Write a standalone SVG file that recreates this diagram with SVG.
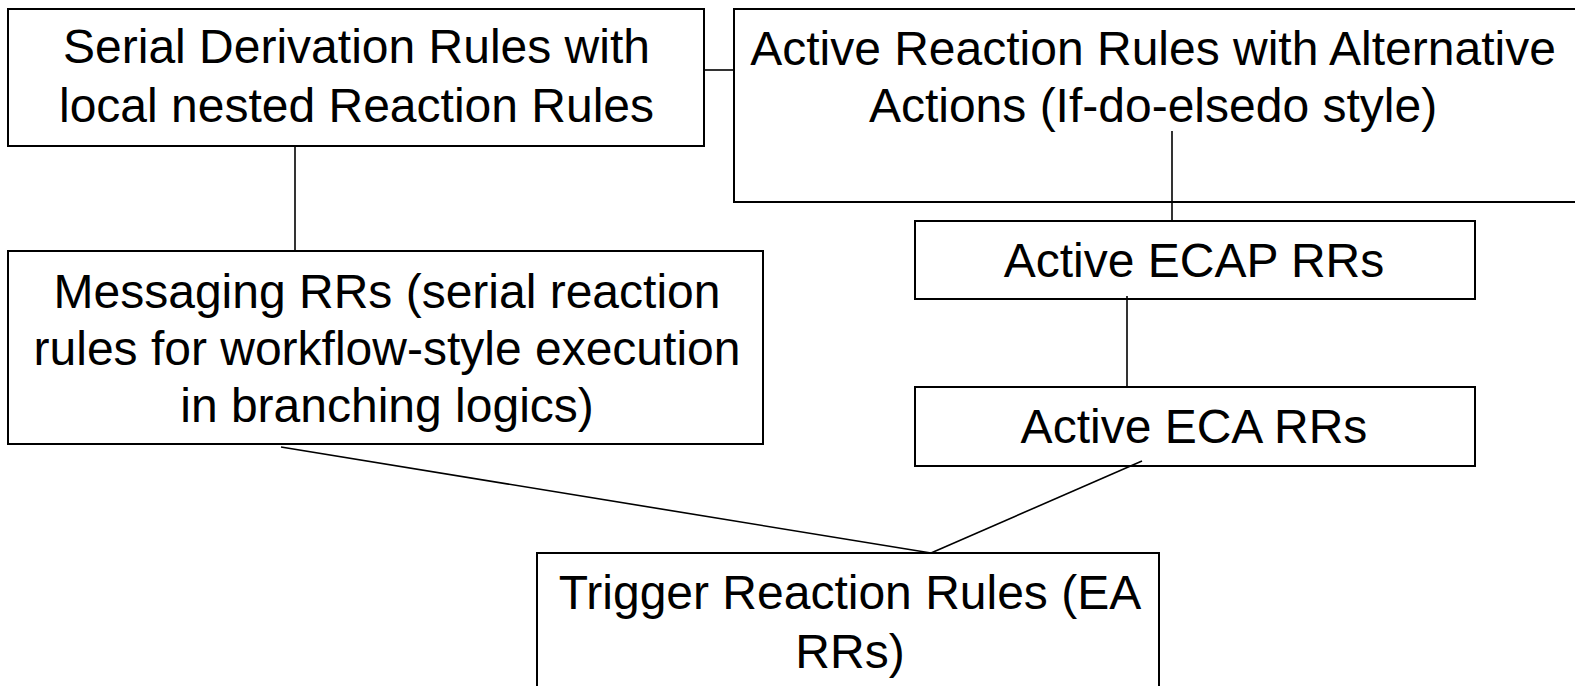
<svg xmlns="http://www.w3.org/2000/svg" width="1575" height="686" viewBox="0 0 1575 686">
<style>
.box{fill:#fff;stroke:#000;stroke-width:2}
.lbl{font-family:"Liberation Sans",Arial,sans-serif;font-size:48px;fill:#000;text-anchor:middle}
.conn{stroke:#000;stroke-width:1.6;fill:none}
</style>
<rect width="1575" height="686" fill="#fff"/>
<g id="nodes">
<g id="serial-derivation">
<rect class="box" x="8" y="9" width="696" height="137"/>
<text class="lbl" x="356.5" y="63">Serial Derivation Rules with</text>
<text class="lbl" x="356.5" y="122">local nested Reaction Rules</text>
</g>
<g id="active-alternative">
<rect class="box" x="734" y="9" width="845" height="193"/>
<text class="lbl" x="1153" y="65">Active Reaction Rules with Alternative</text>
<text class="lbl" x="1153" y="122">Actions (If-do-elsedo style)</text>
</g>
<g id="messaging">
<rect class="box" x="8" y="251" width="755" height="193"/>
<text class="lbl" x="387" y="308">Messaging RRs (serial reaction</text>
<text class="lbl" x="387" y="365">rules for workflow-style execution</text>
<text class="lbl" x="387" y="422">in branching logics)</text>
</g>
<g id="ecap">
<rect class="box" x="915" y="221" width="560" height="78"/>
<text class="lbl" x="1194" y="277">Active ECAP RRs</text>
</g>
<g id="eca">
<rect class="box" x="915" y="387" width="560" height="79"/>
<text class="lbl" x="1194" y="443">Active ECA RRs</text>
</g>
<g id="trigger">
<rect class="box" x="537" y="553" width="622" height="140"/>
<text class="lbl" x="850" y="609">Trigger Reaction Rules (EA</text>
<text class="lbl" x="850" y="668">RRs)</text>
</g>
</g>
<g id="connectors">
<line class="conn" x1="704" y1="70" x2="734" y2="70"/>
<line class="conn" x1="295" y1="146" x2="295" y2="251"/>
<line class="conn" x1="1172" y1="131" x2="1172" y2="221"/>
<line class="conn" x1="1127" y1="296" x2="1127" y2="387"/>
<line class="conn" x1="281" y1="447" x2="931" y2="553"/>
<line class="conn" x1="1142" y1="461" x2="931" y2="553"/>
</g>
</svg>
